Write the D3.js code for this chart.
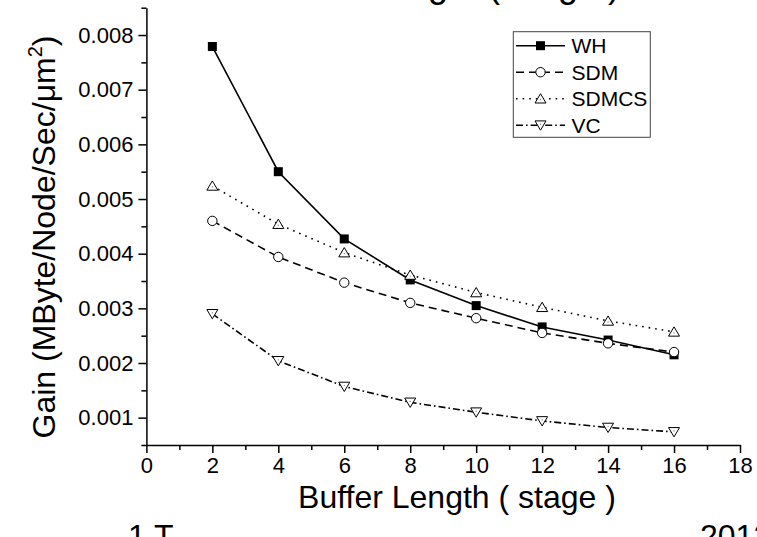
<!DOCTYPE html>
<html>
<head>
<meta charset="utf-8">
<script src="https://cdn.jsdelivr.net/npm/d3@7"></script>
<style>
    body { margin: 0; background: #fff; }
    svg { display: block; font-family: "Liberation Sans", Arial, sans-serif; }
</style>
</head>
<body>
<div id="canvas"></div>
<script>
// values
let buffer = [2, 4, 6, 8, 10, 12, 14, 16]
let wh = [0.00779, 0.0055, 0.00427, 0.00352, 0.00305, 0.00266, 0.00242, 0.00215]
let sdm = [0.0046, 0.00394, 0.00347, 0.0031, 0.00282, 0.00255, 0.00236, 0.0022]
let sdmcs = [0.00524, 0.00454, 0.00402, 0.00361, 0.00329, 0.00302, 0.00277, 0.00257]
let vc = [0.0029, 0.00204, 0.00157, 0.00128, 0.0011, 0.00094, 0.00082, 0.00074]

let seriesNames = ['WH', 'SDM', 'SDMCS', 'VC']
let xTicks = [0, 2, 4, 6, 8, 10, 12, 14, 16, 18]
let yTicks = [0.001, 0.002, 0.003, 0.004, 0.005, 0.006, 0.007, 0.008]

let width = 757
let height = 537

let svg = d3.select('#canvas').append('svg')
    .attr('width', width)
    .attr('height', height)

let x = d3.scaleLinear().domain([0, 18]).range([146.4, 740])
let y = d3.scaleLinear().domain([0.0005, 0.0085]).range([445, 7.7])

let styles = [
    { dash: null, marker: 'square' },
    { dash: '8,5', marker: 'circle' },
    { dash: '1.6,5', marker: 'up' },
    { dash: '7,3,1.6,3', marker: 'down' }
]
let series = [wh, sdm, sdmcs, vc].map((vals, i) => ({
    name: seriesNames[i],
    style: styles[i],
    points: buffer.map((b, j) => [b, vals[j]])
}))

// cut-off text from the page around the chart
svg.append('text')
    .attr('x', 620).attr('y', -3)
    .attr('text-anchor', 'end')
    .attr('font-size', 36)
    .text('Gain vs Buffer Length ( stage )')
svg.append('text')
    .attr('x', 128).attr('y', 547)
    .attr('font-size', 32)
    .text('1 T')
svg.append('text')
    .attr('x', 700).attr('y', 547)
    .attr('font-size', 32)
    .text('2012')

// axes
let xMinor = d3.range(1, 18, 2)
let yMinor = d3.range(0.0005, 0.0086, 0.001)

let gx = svg.append('g').attr('transform', 'translate(0,445)')
gx.call(d3.axisBottom(x).tickValues(xTicks).tickSize(8).tickSizeOuter(0).tickPadding(4))
gx.append('g').call(d3.axisBottom(x).tickValues(xMinor).tickSize(5).tickFormat(''))
    .select('.domain').remove()

let gy = svg.append('g').attr('transform', 'translate(146.4,0)')
gy.call(d3.axisLeft(y).tickValues(yTicks).tickSize(8).tickSizeOuter(0).tickPadding(5)
    .tickFormat(d3.format('.3f')))
gy.append('g').call(d3.axisLeft(y).tickValues(yMinor).tickSize(5).tickFormat(''))
    .select('.domain').remove()

svg.selectAll('.domain, .tick line')
    .attr('stroke', '#000')
    .attr('stroke-width', 1.5)
svg.selectAll('.tick text')
    .attr('fill', '#000')
    .attr('font-size', 22)
    .attr('font-family', '"Liberation Sans", Arial, sans-serif')

// axis titles
svg.append('text')
    .attr('x', 457).attr('y', 508)
    .attr('text-anchor', 'middle')
    .attr('font-size', 32)
    .text('Buffer Length ( stage )')

let yt = svg.append('text')
    .attr('transform', 'translate(55,237) rotate(-90)')
    .attr('text-anchor', 'middle')
    .attr('font-size', 32)
yt.append('tspan').text('Gain (MByte/Node/Sec/\u03bcm')
yt.append('tspan').attr('font-size', 20).attr('dy', -13).text('2')
yt.append('tspan').attr('dy', 13).text(')')

// markers
let drawMarker = function (g, type, cx, cy) {
    if (type === 'square') {
        g.append('rect')
            .attr('x', cx - 4.5).attr('y', cy - 4.5)
            .attr('width', 9).attr('height', 9)
            .attr('fill', '#000')
    } else if (type === 'circle') {
        g.append('circle')
            .attr('cx', cx).attr('cy', cy).attr('r', 4.7)
            .attr('fill', '#fff').attr('stroke', '#000').attr('stroke-width', 1)
    } else {
        let s = type === 'up' ? 1 : -1
        g.append('path')
            .attr('d', d3.line()([[cx - 5.5, cy + 4.3 * s], [cx + 5.5, cy + 4.3 * s], [cx, cy - 5 * s]]) + 'Z')
            .attr('fill', '#fff').attr('stroke', '#000').attr('stroke-width', 1)
        g.append('circle')
            .attr('cx', cx).attr('cy', cy + s).attr('r', 0.6)
            .attr('fill', '#666')
    }
}

let line = d3.line()
    .x((d) => x(d[0]))
    .y((d) => y(d[1]))

series.forEach(function (s) {
    let g = svg.append('g').attr('class', 'series')
    g.append('path')
        .attr('d', line(s.points))
        .attr('fill', 'none')
        .attr('stroke', '#000')
        .attr('stroke-width', 1.6)
        .attr('stroke-dasharray', s.style.dash)
    s.points.forEach((p) => drawMarker(g, s.style.marker, x(p[0]), y(p[1])))
})

// legend
let legend = svg.append('g').attr('class', 'legend')
legend.append('rect')
    .attr('x', 513.3).attr('y', 31.7)
    .attr('width', 137).attr('height', 105.6)
    .attr('fill', '#fff')
    .attr('stroke', '#444')
    .attr('stroke-width', 1)

series.forEach(function (s, i) {
    let cy = 45.7 + i * 26.5
    legend.append('line')
        .attr('x1', 516).attr('x2', 565)
        .attr('y1', cy).attr('y2', cy)
        .attr('stroke', '#000')
        .attr('stroke-width', 1.6)
        .attr('stroke-dasharray', s.style.dash)
    drawMarker(legend, s.style.marker, 540.5, cy)
    legend.append('text')
        .attr('x', 571.5).attr('y', cy + 7.5)
        .attr('font-size', 21)
        .text(s.name)
})
</script>
</body>
</html>
